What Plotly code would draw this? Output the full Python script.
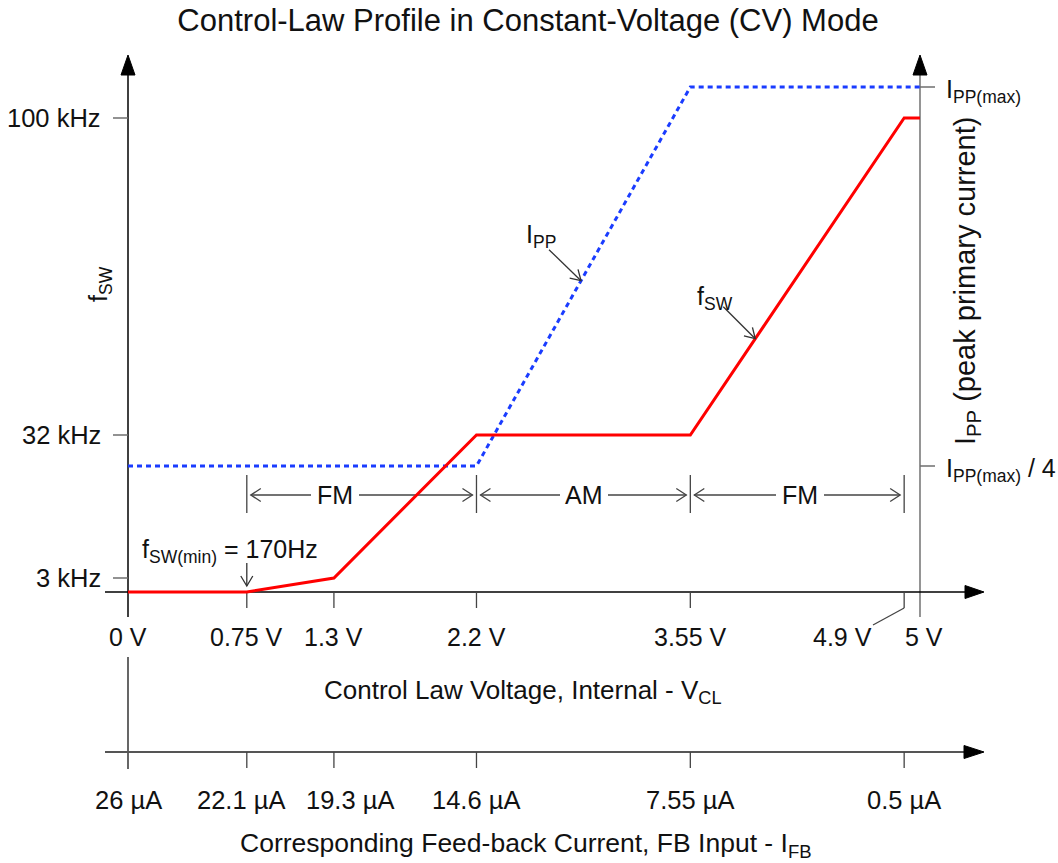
import numpy as np
import plotly.graph_objects as go

# ---------------- data ----------------
VCL_BREAKS = [0, 0.75, 1.3, 2.2, 3.55, 4.9, 5]
VCL_LABELS = ["0 V", "0.75 V", "1.3 V", "2.2 V", "3.55 V", "4.9 V", "5 V"]
IFB_BREAKS = [0, 0.75, 1.3, 2.2, 3.55, 4.9]
IFB_LABELS = ["26 µA", "22.1 µA", "19.3 µA", "14.6 µA", "7.55 µA", "0.5 µA"]

FSW_V = [0, 0.75, 1.3, 2.2, 3.55, 4.9, 5]
FSW_LEVEL = [0, 0, 14, 157, 157, 474, 474]      # schematic (not to scale) height
IPP_V = [0, 2.2, 3.55, 5]
IPP_LEVEL = [126, 126, 505, 505]                 # schematic height

FSW_TICK_LEVEL = [14, 157, 474]
FSW_TICK_LABELS = ["3 kHz", "32 kHz", "100 kHz"]
IPP_TICK_LEVEL = [505, 126]
IPP_TICK_LABELS = ["I<sub>PP(max)</sub>", "I<sub>PP(max)</sub> / 4"]

MODE_BOUNDS = [0.75, 2.2, 3.55, 4.9]
MODE_LABELS = ["FM", "AM", "FM"]

# ---------------- layout constants ----------------
W, H = 1058, 863
X0 = 128.0      # px of 0 V
SX = 158.4      # px per volt
BASE = 592.0    # px of level 0
FONT = "Liberation Sans, Arial, Helvetica, sans-serif"
TXT = "#111111"
RED = "#ff0000"
BLUE = "#1a3cff"
AX = "#000000"
TICK = "#6e6e6e"
FS = 25


def xv(p):
    return (p - X0) / SX


def yl(p):
    return BASE - p


fig = go.Figure()
fig.add_trace(go.Scatter(x=IPP_V, y=IPP_LEVEL, mode="lines",
                         line=dict(color=BLUE, width=3, dash="5px,4px"),
                         hoverinfo="skip", showlegend=False))
fig.add_trace(go.Scatter(x=FSW_V, y=FSW_LEVEL, mode="lines",
                         line=dict(color=RED, width=3),
                         hoverinfo="skip", showlegend=False))

shapes = []


def seg(x0, y0, x1, y1, color=AX, width=1.5, layer="below"):
    shapes.append(dict(type="line", xref="x", yref="y", x0=x0, y0=y0, x1=x1, y1=y1,
                       line=dict(color=color, width=width), layer=layer))


def tri(tip, d, length=20, half=7, color=AX):
    tx, ty = tip
    bx, by = -d[0] * length, -d[1] * length
    nx, ny = -d[1] * half, d[0] * half
    pts = [(tx, ty),
           (tx + (bx + nx) / SX, ty + (by + ny)),
           (tx + (bx - nx) / SX, ty + (by - ny))]
    path = "M {} {} L {} {} L {} {} Z".format(*[c for p in pts for c in p])
    shapes.append(dict(type="path", xref="x", yref="y", path=path,
                       fillcolor=color, line=dict(color=color, width=1), layer="below"))


def chevron(tip, d, length=10, half=6, color="#333333", width=1.3):
    tx, ty = tip
    bx, by = -d[0] * length, -d[1] * length
    nx, ny = -d[1] * half, d[0] * half
    p1 = (tx + (bx + nx) / SX, ty + (by + ny))
    p2 = (tx + (bx - nx) / SX, ty + (by - ny))
    path = "M {} {} L {} {} L {} {}".format(p1[0], p1[1], tx, ty, p2[0], p2[1])
    shapes.append(dict(type="path", xref="x", yref="y", path=path,
                       line=dict(color=color, width=width), layer="above"))


def arrow(tail, tip, color="#333333"):
    seg(tail[0], tail[1], tip[0], tip[1], color=color, width=1.3, layer="above")
    dxp = (tip[0] - tail[0]) * SX
    dyp = tip[1] - tail[1]
    n = np.hypot(dxp, dyp)
    chevron(tip, (dxp / n, dyp / n), color=color)


VMAX = VCL_BREAKS[-1]
TOP = yl(55)

# main vertical axes
seg(0, yl(617), 0, TOP - 18, AX, 1.5)
tri((0, TOP), (0, 1), 20, 7)
seg(VMAX, yl(617), VMAX, TOP - 18, "#7a7a7a", 1.6)
tri((VMAX, TOP), (0, 1), 20, 7)
# main horizontal axis
seg(xv(105), 0, xv(968), 0, AX, 1.5)
tri((xv(984), 0), (1, 0), 19, 6.5)
# lower IFB axis
Y2 = yl(752)
seg(0, yl(657), 0, yl(769), AX, 1.2)
seg(xv(105), Y2, xv(967), Y2, "#555555", 2)
tri((xv(984), Y2), (1, 0), 20, 6.5)

# y ticks
for lv in FSW_TICK_LEVEL:
    seg(xv(113), lv, 0, lv, TICK, 1.5)
for lv in IPP_TICK_LEVEL:
    seg(VMAX, lv, VMAX + 15 / SX, lv, TICK, 1.5)
# x ticks
for v in VCL_BREAKS[1:-1]:
    seg(v, 0, v, -16, "#444444", 1.3)
seg(VCL_BREAKS[-2], -16, xv(873), yl(625), "#444444", 1.3)
for v in IFB_BREAKS[1:]:
    seg(v, Y2, v, Y2 - 16, "#444444", 1.3)

# mode region markers
YM = yl(495)
MODE_TEXT_PX = [335, 584, 800]
for v in MODE_BOUNDS:
    seg(v, yl(475), v, yl(513), "#444444", 1.3)
for i, lab in enumerate(MODE_LABELS):
    lft = MODE_BOUNDS[i] + 4 / SX
    rgt = MODE_BOUNDS[i + 1] - 4 / SX
    c = xv(MODE_TEXT_PX[i])
    seg(lft, YM, c - 24 / SX, YM, "#444444", 1.3)
    chevron((lft, YM), (-1, 0), 10, 6.5, "#444444")
    seg(c + 24 / SX, YM, rgt, YM, "#444444", 1.3)
    chevron((rgt, YM), (1, 0), 10, 6.5, "#444444")

# pointer arrows
ipp_tip_v = 2.86
ipp_tip = (ipp_tip_v, float(np.interp(ipp_tip_v, IPP_V, IPP_LEVEL)))
arrow((ipp_tip[0] - 32 / SX, ipp_tip[1] + 31), ipp_tip)
fsw_tip_v = 3.96
fsw_tip = (fsw_tip_v, float(np.interp(fsw_tip_v, FSW_V, FSW_LEVEL)))
arrow((fsw_tip[0] - 32 / SX, fsw_tip[1] + 32), fsw_tip)
fmin_v = VCL_BREAKS[1]
arrow((fmin_v, 29), (fmin_v, 6))

ann = []


def text(x, y, s, size=FS, xanchor="center", yanchor="middle", angle=0, xref="x", yref="y"):
    ann.append(dict(x=x, y=y, xref=xref, yref=yref, text=s, showarrow=False,
                    xanchor=xanchor, yanchor=yanchor, textangle=angle,
                    font=dict(family=FONT, size=size, color=TXT)))


# tick labels
VCL_LABEL_SHIFT = [0, 0, 0, 0, 0, -62, 4]
for v, lab, sh in zip(VCL_BREAKS, VCL_LABELS, VCL_LABEL_SHIFT):
    text(v + sh / SX, yl(637), lab)
IFB_LABEL_SHIFT = [0, -6, 16, 0, 0, 0]
for v, lab, sh in zip(IFB_BREAKS, IFB_LABELS, IFB_LABEL_SHIFT):
    text(v + sh / SX, yl(800), lab, size=25.5)
for lv, lab in zip(FSW_TICK_LEVEL, FSW_TICK_LABELS):
    text(xv(103), lv, lab, xanchor="right", size=25.5)
for lv, lab in zip(IPP_TICK_LEVEL, IPP_TICK_LABELS):
    text(VMAX + 24 / SX, lv - 4, lab, xanchor="left")

for i, lab in enumerate(MODE_LABELS):
    text(xv(MODE_TEXT_PX[i]), YM, lab)

text(xv(541), yl(236), "I<sub>PP</sub>")
text(xv(715), yl(298), "f<sub>SW</sub>")
text(xv(140), yl(551), "f<sub>SW(min)</sub> = 170Hz", xanchor="left")

# axis titles
text(xv(100), yl(284), "f<sub>SW</sub>", angle=-90)
text(xv(967), yl(281), "I<sub>PP</sub> (peak primary current)", size=29, angle=-90)
text(xv(523), yl(691), "Control Law Voltage, Internal - V<sub>CL</sub>", size=26)
text(xv(526), yl(845), "Corresponding Feed-back Current, FB Input - I<sub>FB</sub>", size=26.5)

fig.update_layout(
    width=W, height=H,
    margin=dict(l=0, r=0, t=0, b=0, pad=0),
    paper_bgcolor="white", plot_bgcolor="white",
    xaxis=dict(range=[-X0 / SX, (W - X0) / SX], visible=False, fixedrange=True),
    yaxis=dict(range=[BASE - H, BASE], visible=False, fixedrange=True),
    shapes=shapes,
    annotations=ann,
    title=dict(text="Control-Law Profile in Constant-Voltage (CV) Mode",
               x=528 / W, y=1 - 20 / H, xanchor="center", yanchor="middle",
               font=dict(family=FONT, size=31, color=TXT)),
    showlegend=False,
)

fig.write_html("out.html")
